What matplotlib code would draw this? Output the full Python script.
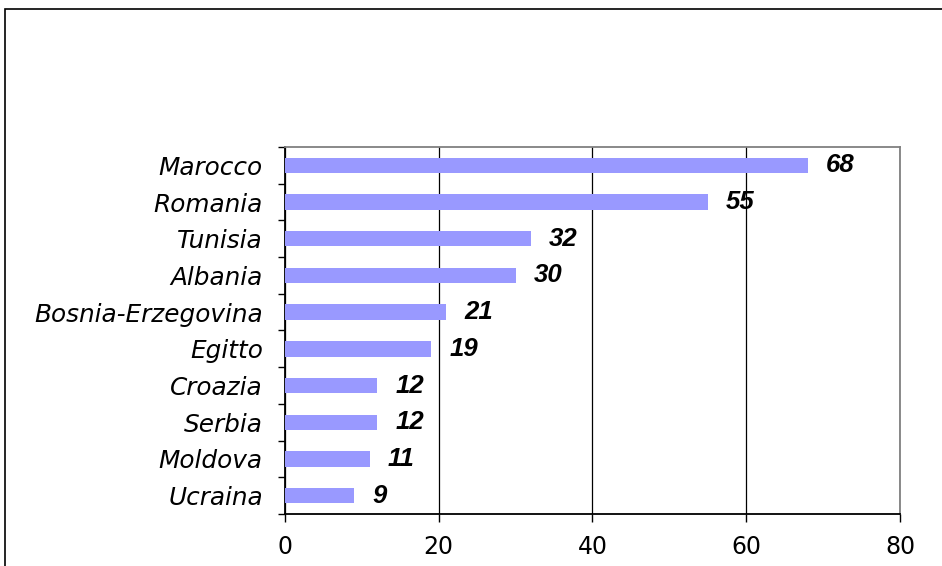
import matplotlib.pyplot as plt
from matplotlib.patches import Rectangle
from matplotlib.ticker import FixedLocator

plt.rcParams['font.family'] = ['DejaVu Sans']

# data, top to bottom as in the picture
countries = ['Marocco', 'Romania', 'Tunisia', 'Albania', 'Bosnia-Erzegovina',
             'Egitto', 'Croazia', 'Serbia', 'Moldova', 'Ucraina']
values = [68, 55, 32, 30, 21, 19, 12, 12, 11, 9]
xticks = [0, 20, 40, 60, 80]

fig = plt.figure(figsize=(9.42, 5.66), dpi=100)
ax = fig.add_axes([0.3025, 0.0919, 0.6529, 0.6484])

# outer frame of the chart object (cut off on right and bottom)
fig.patches.append(Rectangle((5 / 942, -0.2), 1.2, 0.2 + (566 - 9) / 566,
                             transform=fig.transFigure, fill=False,
                             edgecolor='black', linewidth=1.2))

ypos = list(range(len(countries)))
ax.barh(ypos, values, height=0.42, color='#9999FF', zorder=3)
for y, v in zip(ypos, values):
    ax.annotate(str(v), (v, y), xytext=(13, 0), textcoords='offset points',
                ha='left', va='center', fontsize=18.5, fontweight='bold',
                fontstyle='italic', family='Liberation Sans', zorder=4)

ax.set_xlim(0, 80)
ax.set_ylim(len(countries) - 0.5, -0.5)
ax.set_xticks(xticks)
ax.tick_params(axis='x', labelsize=17, length=6, width=1, direction='out', pad=9)
ax.xaxis.grid(True, color='black', linewidth=0.9, zorder=1)

ax.set_yticks(ypos)
ax.set_yticklabels(countries, fontsize=17.8, fontstyle='italic')
ax.tick_params(axis='y', which='major', length=0, pad=16)
ax.yaxis.set_minor_locator(FixedLocator([i - 0.5 for i in range(len(countries) + 1)]))
ax.tick_params(axis='y', which='minor', length=5, width=1)

ax.spines['left'].set_color('black')
ax.spines['bottom'].set_color('black')
ax.spines['top'].set_color('#808080')
ax.spines['right'].set_color('#808080')
for s in ax.spines.values():
    s.set_linewidth(1.3)

fig.savefig('out.png', dpi=100)
